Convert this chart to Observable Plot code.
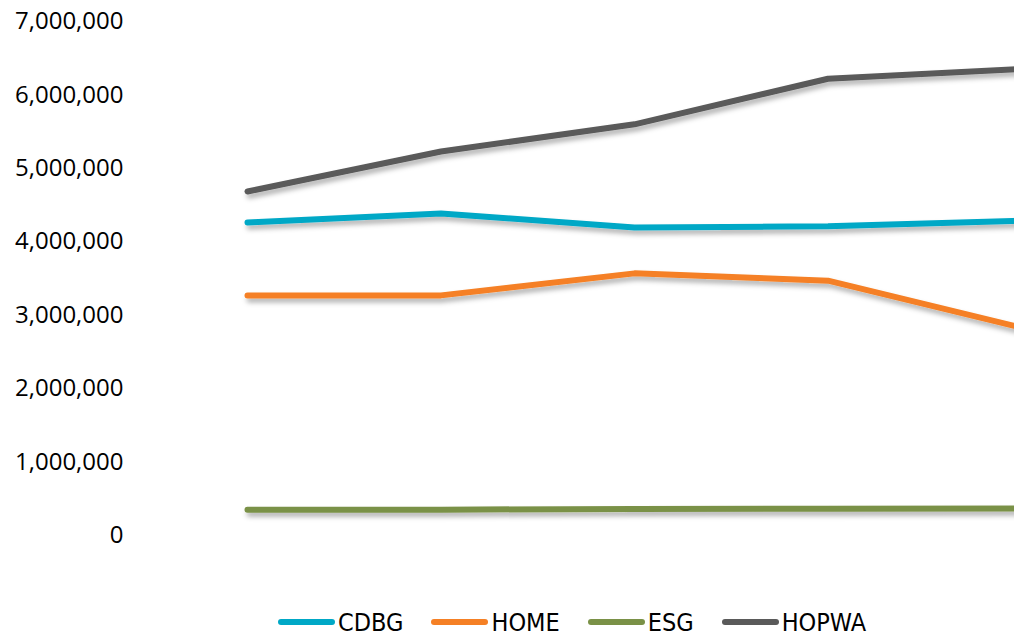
<!DOCTYPE html>
<html>
<head>
<meta charset="utf-8">
<script src="https://cdn.jsdelivr.net/npm/d3@7"></script>
<script src="https://cdn.jsdelivr.net/npm/@observablehq/plot@0.6"></script>
<style>
  html, body { margin: 0; padding: 0; background: #fff; overflow: hidden; width: 1014px; height: 637px; }
  #chart svg { display: block; overflow: visible; }
  #legend { position: absolute; left: 278px; top: 604px; display: flex; align-items: center; height: 36px;
    font-family: "Liberation Sans Narrow", "Arial Narrow", "DejaVu Sans Condensed", sans-serif; font-size: 25px; color: #000; }
  .item { display: flex; align-items: center; margin-right: 28px; }
  .sw { width: 57px; height: 6px; border-radius: 3px; margin-right: 3px; }
</style>
</head>
<body>
<div id="chart"></div>
<div id="legend"></div>
<script>
const periods = [0, 1, 2, 3, 4];
const seriesNames = ["CDBG", "HOME", "ESG", "HOPWA"];
const seriesColors = ["#00A8C6", "#F58025", "#7A9147", "#5A5A5A"];
const cdbg  = [4263000, 4385000, 4195000, 4210000, 4285000];
const home  = [3270000, 3270000, 3570000, 3470000, 2830000];
const esg   = [350000, 352000, 362000, 365000, 368000];
const hopwa = [4685000, 5230000, 5600000, 6220000, 6355000];
const yTicks = [0, 1000000, 2000000, 3000000, 4000000, 5000000, 6000000, 7000000];

const seriesValues = [cdbg, home, esg, hopwa];
const rows = [];
seriesNames.forEach((name, i) => {
  periods.forEach((p, j) => rows.push({ series: name, period: p, value: seriesValues[i][j] }));
});

const plot = Plot.plot({
  width: 1014,
  height: 590,
  marginTop: 21,
  marginBottom: 55,
  marginLeft: 130,
  marginRight: 0,
  style: { fontFamily: "'Open Sans', sans-serif", fontSize: "24px", color: "#000", background: "transparent" },
  x: { domain: [0, 4], range: [247, 1021], axis: null },
  y: { domain: [0, 7000000], axis: null },
  color: { domain: seriesNames, range: seriesColors },
  marks: [
    Plot.axisY({ ticks: yTicks, tickSize: 0, tickPadding: 7, tickFormat: d3.format(","), fontSize: 24, fill: "#000", label: null }),
    Plot.line(rows, { x: "period", y: "value", z: "series", stroke: "series", strokeWidth: 6, strokeLinecap: "round", strokeLinejoin: "round" })
  ]
});

// drop shadow filter
const ns = "http://www.w3.org/2000/svg";
const defs = document.createElementNS(ns, "defs");
const filter = document.createElementNS(ns, "filter");
filter.setAttribute("id", "shadow");
filter.setAttribute("filterUnits", "userSpaceOnUse");
filter.setAttribute("x", "0"); filter.setAttribute("y", "0");
filter.setAttribute("width", "1100"); filter.setAttribute("height", "637");
const ds = document.createElementNS(ns, "feDropShadow");
ds.setAttribute("dx", "2"); ds.setAttribute("dy", "4"); ds.setAttribute("stdDeviation", "2.5");
ds.setAttribute("flood-color", "#000"); ds.setAttribute("flood-opacity", "0.3");
filter.appendChild(ds); defs.appendChild(filter);
plot.insertBefore(defs, plot.firstChild);
plot.querySelectorAll('g[aria-label="line"] path').forEach(p => p.setAttribute("filter", "url(#shadow)"));

document.getElementById("chart").appendChild(plot);

const legend = document.getElementById("legend");
seriesNames.forEach((name, i) => {
  const it = document.createElement("div"); it.className = "item";
  const sw = document.createElement("div"); sw.className = "sw"; sw.style.background = seriesColors[i];
  const tx = document.createElement("span"); tx.textContent = name;
  it.appendChild(sw); it.appendChild(tx); legend.appendChild(it);
});
</script>
</body>
</html>
